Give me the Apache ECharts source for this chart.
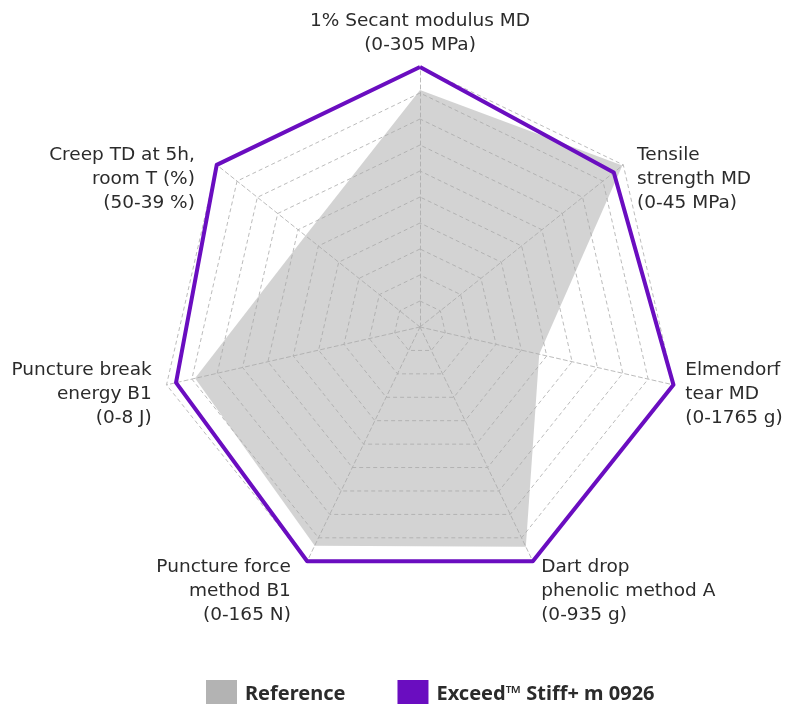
<!DOCTYPE html>
<html><head><meta charset="utf-8">
<script src="https://cdn.jsdelivr.net/npm/echarts@6/dist/echarts.min.js"></script>
<style>html,body{margin:0;padding:0;background:#fff}#c{width:789px;height:704px}</style>
</head><body><div id="c"></div>
<script>
// Indicator labels (axis names, clockwise from top) and their maxima
const indicatorNames = [
  '1% Secant modulus MD\n(0-305 MPa)',
  'Tensile\nstrength MD\n(0-45 MPa)',
  'Elmendorf\ntear MD\n(0-1765 g)',
  'Dart drop\nphenolic method A\n(0-935 g)',
  'Puncture force\nmethod B1\n(0-165 N)',
  'Puncture break\nenergy B1\n(0-8 J)',
  'Creep TD at 5h,\nroom T (%)\n(50-39 %)'
];
const indicatorMax = [305, 45, 1765, 935, 165, 8, 11];
// Creep axis runs from 50 % (centre) to 39 % (outer ring)
const creepStart = 50;

const seriesNames = ['Reference', 'Exceed\u2122 Stiff+ m 0926'];
const referenceValues = [278, 44.8, 830, 877, 154, 7.1, 43.8];
const exceedValues    = [305, 42.9, 1765, 935, 165, 7.7, 39];

// ECharts lays indicators counter-clockwise; reorder so they run clockwise
const order = [0, 6, 5, 4, 3, 2, 1];
function toRadar(vals) {
  return order.map(i => i === 6 ? creepStart - vals[i] : vals[i]);
}

// label fine placement: [dx, dy] per indicator (original order)
const labelShift = [[0,0],[6,21],[2,7],[4,21],[-12,21],[-5,7],[-14,21]];

const FONT = 'DejaVu Sans';
const rich = {};
labelShift.forEach(([dx, dy], i) => {
  rich['t' + i] = { fontSize: 18.5, lineHeight: 24, color: '#2b2b2b', fontFamily: FONT,
    padding: dx >= 0 ? [0, 0, 0, dx] : [0, -dx, 0, 0] };
  rich['s' + i] = { fontSize: 2, lineHeight: Math.max(1, dy * 2) };
});

const chart = echarts.init(document.getElementById('c'));
chart.setOption({
  backgroundColor: '#ffffff',
  animation: false,
  color: ['#b3b3b3', '#6a0dc0'],
  legend: {
    data: seriesNames,
    left: 206, top: 680, padding: 0,
    itemWidth: 31, itemHeight: 28, itemGap: 52,
    icon: 'rect',
    textStyle: { fontFamily: 'Noto Sans', fontWeight: 'bold', fontSize: 20, color: '#2b2b2b',
      padding: [0, 0, 0, 3] }
  },
  radar: {
    center: [420, 327],
    radius: 260,
    startAngle: 90,
    splitNumber: 10,
    shape: 'polygon',
    axisNameGap: 10,
    indicator: order.map(i => ({ name: indicatorNames[i], min: 0, max: indicatorMax[i] })),
    axisName: {
      color: '#2b2b2b', fontFamily: FONT, fontSize: 18.5, lineHeight: 24,
      rich: rich,
      formatter: function (name) {
        const i = indicatorNames.indexOf(name);
        const lines = name.split('\n').map(l => '{t' + i + '|' + l + '}');
        const dy = labelShift[i][1];
        return (dy > 0 ? '{s' + i + '| }\n' : '') + lines.join('\n');
      }
    },
    splitArea: { show: false },
    splitLine: { lineStyle: { color: '#bcbcbc', width: 1, type: [4, 3] } },
    axisLine: { lineStyle: { color: '#bcbcbc', width: 1, type: [4, 3] } },
    axisTick: { show: false }
  },
  series: [{
    type: 'radar',
    symbol: 'none',
    data: [
      { name: seriesNames[0], value: toRadar(referenceValues),
        lineStyle: { width: 0, color: '#b3b3b3' },
        itemStyle: { color: '#b3b3b3' },
        areaStyle: { color: 'rgba(168,168,168,0.5)', opacity: 1 } },
      { name: seriesNames[1], value: toRadar(exceedValues),
        lineStyle: { width: 4, color: '#6a0dc0' },
        itemStyle: { color: '#6a0dc0' } }
    ]
  }]
});
</script></body></html>
